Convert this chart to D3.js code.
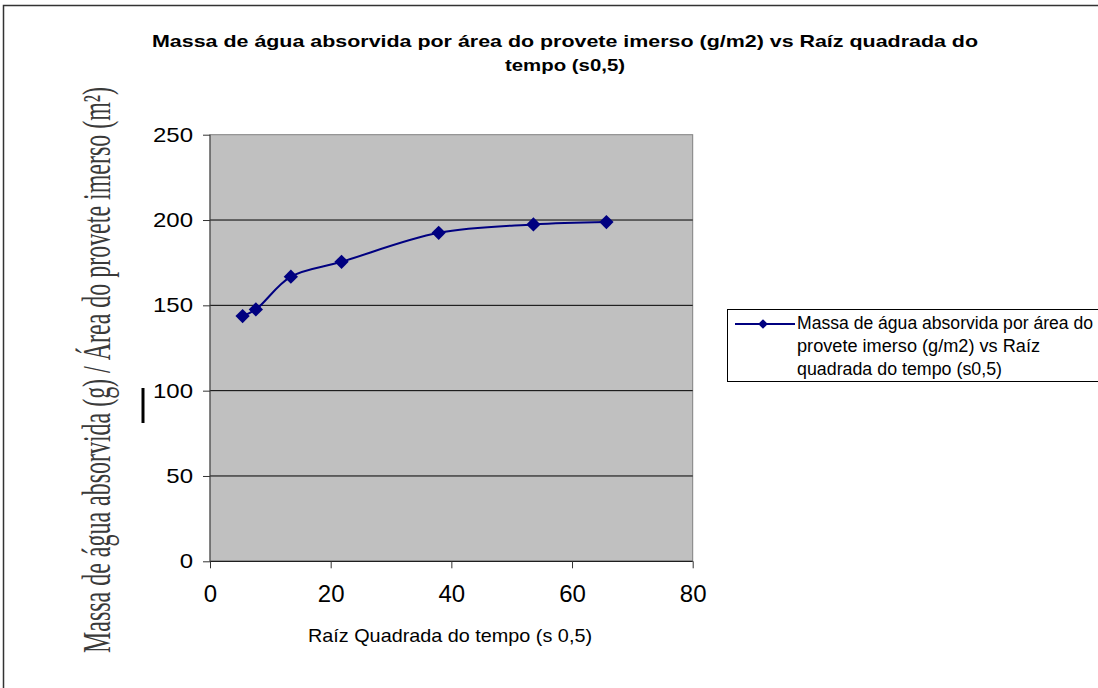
<!DOCTYPE html>
<html>
<head>
<meta charset="utf-8">
<script src="https://cdn.jsdelivr.net/npm/d3@7"></script>
<style>
  body { margin: 0; background: #fff; }
  svg { display: block; font-family: Arial, "Liberation Sans", sans-serif; }
</style>
</head>
<body>
<div id="chart"></div>
<script>
// Absorção de água: massa por área vs raiz quadrada do tempo
const rootTime = [5.4, 7.6, 13.4, 21.8, 37.9, 53.6, 65.7];
const massPerArea = [143.7, 147.6, 166.8, 175.5, 192.5, 197.4, 198.8];
const xTicks = [0, 20, 40, 60, 80];
const yTicks = [0, 50, 100, 150, 200, 250];

const titleLines = [
  "Massa de água absorvida por área do provete imerso (g/m2) vs Raíz quadrada do",
  "tempo (s0,5)"
];
const legendLines = [
  "Massa de água absorvida por área do",
  "provete imerso (g/m2) vs Raíz",
  "quadrada do tempo (s0,5)"
];
const xTitle = "Raíz Quadrada do tempo (s 0,5)";
const yTitle = "Massa de água absorvida (g) / Área do provete imerso (m²)";

const W = 1098, H = 688;
const plot = { left: 210, top: 134.7, right: 692.7, bottom: 561.3 };
const NAVY = "#000080";

const svg = d3.select("#chart").append("svg")
  .attr("width", W)
  .attr("height", H);

// outer frame (top and left edge visible)
svg.append("path")
  .attr("d", `M3.5,${H} V5.5 H${W}`)
  .attr("fill", "none")
  .attr("stroke", "#333")
  .attr("stroke-width", 1.5);

// scales
const x = d3.scaleLinear().domain([0, 80]).range([plot.left, plot.right]);
const y = d3.scaleLinear().domain([0, 250]).range([plot.bottom, plot.top]);

// plot background
svg.append("rect")
  .attr("x", plot.left)
  .attr("y", plot.top)
  .attr("width", plot.right - plot.left)
  .attr("height", plot.bottom - plot.top)
  .attr("fill", "#c0c0c0")
  .attr("stroke", "#808080")
  .attr("stroke-width", 1);

// gridlines
svg.append("g")
  .selectAll("line")
  .data(yTicks.filter(v => v > 0 && v < 250))
  .join("line")
  .attr("x1", plot.left)
  .attr("x2", plot.right)
  .attr("y1", d => y(d))
  .attr("y2", d => y(d))
  .attr("stroke", "#000")
  .attr("stroke-width", 1);

// axes
const xAxis = svg.append("g")
  .attr("transform", `translate(0,${plot.bottom})`)
  .call(d3.axisBottom(x).tickValues(xTicks).tickSize(7).tickPadding(17).tickSizeOuter(7));
xAxis.select(".domain").attr("stroke", "#000").attr("d", `M${plot.left},0H${plot.right}`);
xAxis.selectAll(".tick line").attr("stroke", "#333");
xAxis.selectAll("text")
  .attr("font-size", 24)
  .attr("font-family", "Arial, 'Liberation Sans', sans-serif")
  .attr("fill", "#000");

const yAxis = svg.append("g")
  .attr("transform", `translate(${plot.left},0)`)
  .call(d3.axisLeft(y).tickValues(yTicks).tickSize(7).tickPadding(10));
yAxis.select(".domain").attr("stroke", "#444").attr("d", `M0,${plot.top}V${plot.bottom}`);
yAxis.selectAll(".tick line").attr("stroke", "#333");
yAxis.selectAll("text")
  .attr("font-size", 24)
  .attr("font-family", "Arial, 'Liberation Sans', sans-serif")
  .attr("fill", "#000")
  .attr("transform", "scale(1,0.85)");

// series
const pts = rootTime.map((t, i) => [t, massPerArea[i]]);
const line = d3.line()
  .x(d => x(d[0]))
  .y(d => y(d[1]))
  .curve(d3.curveCatmullRom.alpha(0.5));

svg.append("path")
  .datum(pts)
  .attr("d", line)
  .attr("fill", "none")
  .attr("stroke", NAVY)
  .attr("stroke-width", 2);

const diamond = d3.symbol().type(d3.symbolDiamond2).size(130);
svg.append("g")
  .selectAll("path")
  .data(pts)
  .join("path")
  .attr("d", diamond)
  .attr("transform", d => `translate(${x(d[0])},${y(d[1])})`)
  .attr("fill", NAVY);

// title
svg.append("g")
  .selectAll("text")
  .data(titleLines)
  .join("text")
  .attr("x", 565)
  .attr("y", (d, i) => 47 + i * 24)
  .attr("text-anchor", "middle")
  .attr("font-size", 17)
  .attr("font-weight", "bold")
  .attr("textLength", (d, i) => i === 0 ? 826 : 120)
  .attr("lengthAdjust", "spacingAndGlyphs")
  .text(d => d);

// x axis title
svg.append("text")
  .attr("x", 308)
  .attr("y", 642)
  .attr("font-size", 19)
  .attr("textLength", 284)
  .attr("lengthAdjust", "spacingAndGlyphs")
  .text(xTitle);

// y axis title (stretched serif, as pasted in the original)
svg.append("text")
  .attr("transform", "translate(110,370) rotate(-90)")
  .attr("text-anchor", "middle")
  .attr("font-family", "'Liberation Serif', 'Times New Roman', serif")
  .attr("font-size", 40)
  .attr("fill", "#3a3a3a")
  .attr("textLength", 566)
  .attr("lengthAdjust", "spacingAndGlyphs")
  .text(yTitle);

// stray mark left of the axis
svg.append("line")
  .attr("x1", 143).attr("x2", 143)
  .attr("y1", 388).attr("y2", 423)
  .attr("stroke", "#000")
  .attr("stroke-width", 3);

// legend
const legend = svg.append("g");
legend.append("rect")
  .attr("x", 727.5)
  .attr("y", 309.5)
  .attr("width", 380)
  .attr("height", 72)
  .attr("fill", "#fff")
  .attr("stroke", "#000");
legend.append("line")
  .attr("x1", 735).attr("x2", 795)
  .attr("y1", 324).attr("y2", 324)
  .attr("stroke", NAVY)
  .attr("stroke-width", 2);
legend.append("path")
  .attr("d", d3.symbol().type(d3.symbolDiamond2).size(60))
  .attr("transform", "translate(763,324)")
  .attr("fill", NAVY);
legend.selectAll("text.leg")
  .data(legendLines)
  .join("text")
  .attr("class", "leg")
  .attr("x", 797)
  .attr("y", (d, i) => 329 + i * 23)
  .attr("font-size", 17.5)
  .attr("textLength", (d, i) => [296, 243, 205][i])
  .attr("lengthAdjust", "spacingAndGlyphs")
  .text(d => d);
</script>
</body>
</html>
